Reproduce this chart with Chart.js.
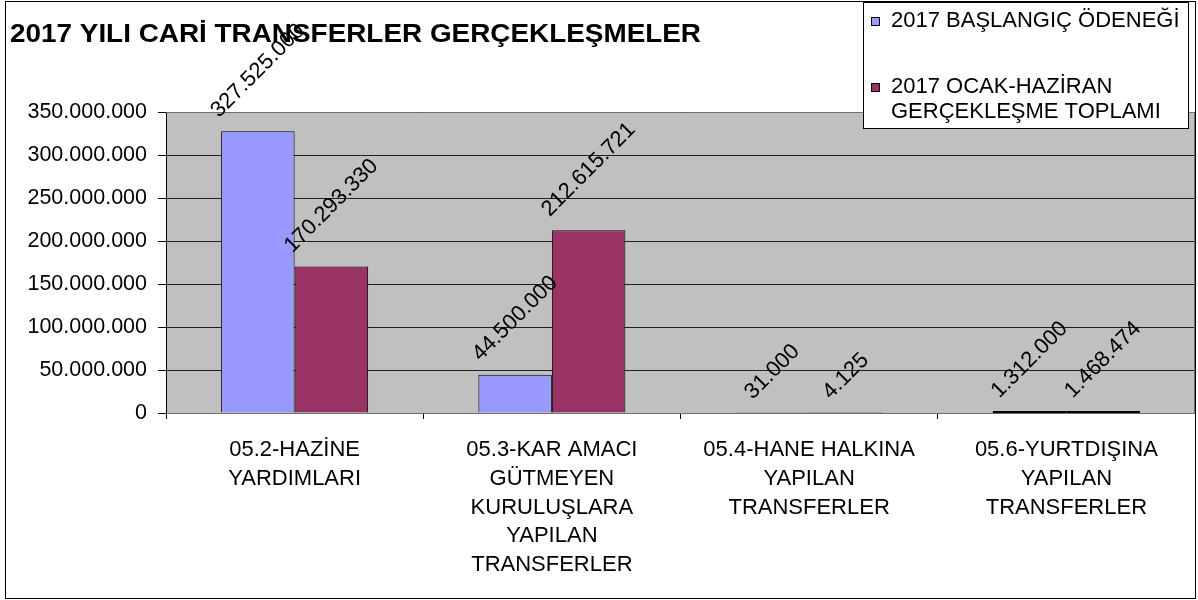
<!DOCTYPE html>
<html lang="tr">
<head>
<meta charset="UTF-8">
<title>2017 YILI CARİ TRANSFERLER GERÇEKLEŞMELER</title>
<script src="https://cdn.jsdelivr.net/npm/chart.js"></script>
<style>
    body { margin: 0; background: #ffffff; }
    .kutu { position: relative; width: 1198px; height: 600px; }
</style>
</head>
<body>
<div class="kutu">
    <canvas id="grafik"></canvas>
</div>

<script>
    // veriler
    const kategoriler = [
        ['05.2-HAZİNE', 'YARDIMLARI'],
        ['05.3-KAR AMACI', 'GÜTMEYEN', 'KURULUŞLARA', 'YAPILAN', 'TRANSFERLER'],
        ['05.4-HANE HALKINA', 'YAPILAN', 'TRANSFERLER'],
        ['05.6-YURTDIŞINA', 'YAPILAN', 'TRANSFERLER']
    ]
    const baslangicOdenegi = [327525000, 44500000, 31000, 1312000]
    const ocakHaziranToplam = [170293330, 212615721, 4125, 1468474]
    const seriAdlari = ['2017 BAŞLANGIÇ ÖDENEĞİ', '2017 OCAK-HAZİRAN GERÇEKLEŞME TOPLAMI']
    const lejantSatirlari = [['2017 BAŞLANGIÇ ÖDENEĞİ'], ['2017 OCAK-HAZİRAN', 'GERÇEKLEŞME TOPLAMI']]
    const yEksenDegerleri = [0, 50000000, 100000000, 150000000, 200000000, 250000000, 300000000, 350000000]
    const baslik = '2017 YILI CARİ TRANSFERLER GERÇEKLEŞMELER'

    const renkler = ['#9999ff', '#993366']
    const yazi = "'Liberation Sans', Arial, sans-serif"

    function noktali(v) {
        return String(v).replace(/\B(?=(\d{3})+(?!\d))/g, '.')
    }

    Chart.defaults.font.family = yazi
    Chart.defaults.color = '#000000'

    const arkaPlan = {
        id: 'arkaPlan',
        beforeDraw(chart) {
            const ctx = chart.ctx
            const a = chart.chartArea
            ctx.save()
            ctx.fillStyle = '#ffffff'
            ctx.fillRect(0, 0, chart.width, chart.height)
            ctx.fillStyle = '#c0c0c0'
            ctx.fillRect(a.left, a.top, a.right - a.left, a.bottom - a.top)
            // baslik (genislik referansa gore)
            ctx.fillStyle = '#000000'
            ctx.font = 'bold 26px ' + yazi
            ctx.textAlign = 'left'
            ctx.textBaseline = 'alphabetic'
            const bw = ctx.measureText(baslik).width
            ctx.translate(10, 42)
            ctx.scale(691 / bw, 1)
            ctx.fillText(baslik, 0, 0)
            ctx.restore()
        },
        afterDraw(chart) {
            const ctx = chart.ctx
            const a = chart.chartArea
            const sifir = chart.scales.y.getPixelForValue(0)
            ctx.save()

            // cok ince cubuklar: ust kenar cizgisi (1 pikselden yuksekse)
            ctx.strokeStyle = '#000000'
            ctx.lineWidth = 2
            chart.data.datasets.forEach(function (ds, i) {
                chart.getDatasetMeta(i).data.forEach(function (bar) {
                    const p = bar.getProps(['x', 'y', 'width'], true)
                    const yuk = sifir - p.y
                    if (yuk >= 1 && yuk < 4) {
                        ctx.beginPath()
                        ctx.moveTo(p.x - p.width / 2, sifir - 1)
                        ctx.lineTo(p.x + p.width / 2, sifir - 1)
                        ctx.stroke()
                    }
                })
            })

            // cizim alani ust ve sag kenar
            ctx.strokeStyle = '#707070'
            ctx.lineWidth = 1
            ctx.beginPath()
            ctx.moveTo(a.left, a.top + 0.5)
            ctx.lineTo(a.right - 0.5, a.top + 0.5)
            ctx.lineTo(a.right - 0.5, a.bottom)
            ctx.stroke()

            // dis cerceve
            ctx.strokeStyle = '#000000'
            ctx.strokeRect(5.5, 1.5, 1190, 597)

            // veri etiketleri (45 derece)
            ctx.font = '22px ' + yazi
            ctx.fillStyle = '#000000'
            ctx.textAlign = 'center'
            ctx.textBaseline = 'middle'
            chart.data.datasets.forEach(function (ds, i) {
                chart.getDatasetMeta(i).data.forEach(function (bar, j) {
                    const metin = noktali(ds.data[j])
                    const w = ctx.measureText(metin).width
                    const yarim = (w + 15) * 0.7071 / 2
                    ctx.save()
                    ctx.translate(bar.x, bar.y - 12 - yarim)
                    ctx.rotate(-Math.PI / 4)
                    ctx.fillText(metin, 0, 0)
                    ctx.restore()
                })
            })

            // lejant
            ctx.fillStyle = '#ffffff'
            ctx.fillRect(863, 2, 325, 126)
            ctx.strokeStyle = '#000000'
            ctx.strokeRect(863.5, 2.5, 325, 126)
            ctx.font = '22px ' + yazi
            ctx.textAlign = 'left'
            const satirY = [[21], [87, 112]]
            lejantSatirlari.forEach(function (satirlar, i) {
                ctx.fillStyle = renkler[i]
                ctx.fillRect(871, satirY[i][0] - 4, 9, 9)
                ctx.strokeStyle = '#000000'
                ctx.strokeRect(871.5, satirY[i][0] - 3.5, 8, 8)
                ctx.fillStyle = '#000000'
                satirlar.forEach(function (s, k) {
                    ctx.fillText(s, 891, satirY[i][k])
                })
            })
            ctx.restore()
        }
    }

    const grafik = new Chart(document.getElementById('grafik'), {
        type: 'bar',
        data: {
            labels: kategoriler,
            datasets: [{
                label: seriAdlari[0],
                data: baslangicOdenegi,
                backgroundColor: renkler[0],
                borderColor: '#000000',
                borderWidth: 1,
                borderSkipped: 'start',
                categoryPercentage: 2 / 3.5,
                barPercentage: 1
            }, {
                label: seriAdlari[1],
                data: ocakHaziranToplam,
                backgroundColor: renkler[1],
                borderColor: '#000000',
                borderWidth: 1,
                borderSkipped: 'start',
                categoryPercentage: 2 / 3.5,
                barPercentage: 1
            }]
        },
        options: {
            responsive: true,
            maintainAspectRatio: false,
            animation: false,
            layout: { padding: { top: 112, right: 3, left: 0, bottom: 0 } },
            plugins: {
                legend: { display: false },
                title: { display: false },
                tooltip: { enabled: false }
            },
            scales: {
                x: {
                    afterFit: function (s) { s.height = 187 },
                    grid: {
                        offset: true,
                        drawOnChartArea: false,
                        drawTicks: true,
                        tickLength: 6,
                        tickColor: '#000000'
                    },
                    border: { color: '#707070' },
                    ticks: {
                        maxRotation: 0,
                        autoSkip: false,
                        padding: 17,
                        font: { size: 22, lineHeight: 1.3 },
                        color: '#000000'
                    }
                },
                y: {
                    min: yEksenDegerleri[0],
                    max: yEksenDegerleri[yEksenDegerleri.length - 1],
                    afterFit: function (s) { s.width = 166 },
                    afterBuildTicks: function (s) {
                        s.ticks = yEksenDegerleri.map(function (v) { return { value: v } })
                    },
                    grid: {
                        color: '#202020',
                        drawTicks: true,
                        tickLength: 8,
                        tickColor: '#000000'
                    },
                    border: { color: '#000000' },
                    ticks: {
                        padding: 11,
                        font: { size: 21.5 },
                        color: '#000000',
                        callback: function (v) { return noktali(v) }
                    }
                }
            }
        },
        plugins: [arkaPlan]
    })
</script>
</body>
</html>
